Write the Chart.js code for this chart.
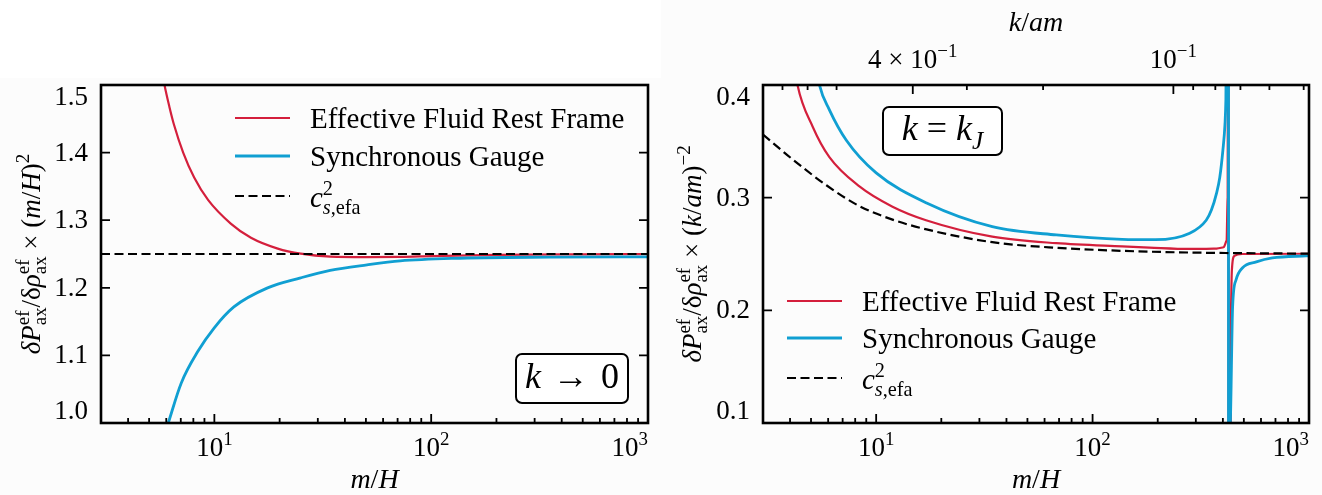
<!DOCTYPE html>
<html>
<head>
<meta charset="utf-8">
<script src="https://cdn.jsdelivr.net/npm/chart.js@4.4.1/dist/chart.umd.min.js"></script>
<style>
  html, body { margin: 0; padding: 0; background: #fcfcfc; }
  #wrap { position: relative; width: 1322px; height: 495px; overflow: hidden; }
  #topwhite { position: absolute; left: 0; top: 0; width: 661px; height: 78px; background: #fff; }
  .panel { position: absolute; top: 0; width: 661px; height: 495px; }
  #pL { left: 0; }
  #pR { left: 661px; }
</style>
</head>
<body>
<div id="wrap">
  <div id="topwhite"></div>
  <div class="panel" id="pL"><canvas id="cL"></canvas></div>
  <div class="panel" id="pR"><canvas id="cR"></canvas></div>
</div>
<script>
"use strict";

const FONT  = '"Liberation Serif", "DejaVu Serif", serif';
const RED   = "#d41f3c";
const BLUE  = "#109fd2";
const BLACK = "#000000";

// ── Data: left panel (k → 0) ────────────────────────────────────────────────
const restL_mH  = [5.6, 5.88, 6.2, 6.53, 7.18, 8.07, 9.35, 11.9, 14.75, 19.6, 25, 34.3, 50, 72, 100, 200, 500, 1000];
const restL_val = [1.54, 1.501, 1.468, 1.440, 1.400, 1.363, 1.330, 1.295, 1.274, 1.258, 1.2505, 1.2462, 1.2455, 1.2457, 1.2468, 1.2487, 1.2495, 1.2498];

const syncL_mH  = [5.9, 6.12, 7.03, 8.41, 9.97, 12.3, 17.6, 25, 34.2, 50.6, 72, 126, 352, 1000];
const syncL_val = [0.984, 0.9995, 1.0589, 1.1064, 1.1405, 1.1717, 1.1999, 1.2147, 1.2258, 1.234, 1.2399, 1.2436, 1.2454, 1.2458];

const csL_mH  = [3, 1000];
const csL_val = [1.25, 1.25];

// ── Data: right panel (k = k_J) ─────────────────────────────────────────────
const restR_mH  = [4.1, 4.33, 5.09, 6.08, 8.37, 11.9, 17.0, 34.4, 68, 137, 183, 281, 374, 403, 416, 421, 424, 424.6, 424.7, 427, 436, 440, 452, 492, 1000];
const restR_val = [0.43, 0.40, 0.363, 0.336, 0.310, 0.292, 0.280, 0.2654, 0.2596, 0.2567, 0.2557, 0.2545, 0.2548, 0.256, 0.262, 0.30, 0.8, 20, -20, -1, 0.20, 0.235, 0.2483, 0.2500, 0.2502];

const syncR_mH  = [5.2, 5.47, 6.08, 7.28, 10.0, 17.1, 34.4, 68, 137, 195, 281, 335, 354, 374, 387, 400, 409, 413, 419, 423, 424.6, 424.7, 426, 433, 443.6, 460, 492, 571, 677, 970, 1000];
const syncR_val = [0.425, 0.40, 0.378, 0.351, 0.322, 0.2953, 0.2743, 0.2669, 0.263, 0.2627, 0.2684, 0.280, 0.289, 0.304, 0.318, 0.342, 0.365, 0.387, 0.55, 1.5, 20, -20, -1, 0.10, 0.203, 0.227, 0.2376, 0.243, 0.2465, 0.2483, 0.2484];

const csR_mH  = [3, 4.11, 5.89, 8.37, 11.9, 17.1, 34.4, 68, 137, 281, 1000];
const csR_val = [0.356, 0.334, 0.311, 0.2925, 0.2805, 0.2718, 0.2605, 0.2555, 0.2528, 0.2513, 0.2503];

// ── Axes ────────────────────────────────────────────────────────────────────
const X_MIN = 3, X_MAX = 1000;
const xMajor = [10, 100, 1000];
const xMinor = [4, 5, 6, 7, 8, 9, 20, 30, 40, 50, 60, 70, 80, 90, 200, 300, 400, 500, 600, 700, 800, 900];
const yTicksL = [1.0, 1.1, 1.2, 1.3, 1.4, 1.5];
const yTicksR = [0.1, 0.2, 0.3, 0.4];

// top axis of the right panel: k/am = KJ / sqrt(m/H)
const KJ = 1.537;
const kamTicks = [0.8, 0.7, 0.6, 0.4, 0.3, 0.2, 0.1, 0.09, 0.08, 0.07, 0.06, 0.05];
const kamMajor = [0.4, 0.1];
const kamLabels = [
  [{ t: "4 × 10" }, { t: "−1", s: "sup" }],
  [{ t: "10" }, { t: "−1", s: "sup" }],
];

// ── Rich text (sub/superscripts) ────────────────────────────────────────────
function layoutRich(ctx, parts, size) {
  let cursor = 0, maxEnd = 0, lastScript = 0;
  const items = [];
  for (const p of parts) {
    if (p.g) { maxEnd += p.g; cursor = maxEnd; continue; }
    const fs = p.s ? size * 0.7 : size;
    const font = `${p.i ? "italic " : ""}${fs}px ${FONT}`;
    ctx.font = font;
    const w = ctx.measureText(p.t).width;
    let start;
    if (p.stack) start = lastScript;
    else if (p.s) start = cursor;
    else start = maxEnd;
    if (p.s && !p.stack && !p.cont) lastScript = start;
    const dy = p.s === "sup" ? -0.4 * size : p.s === "sub" ? 0.24 * size : 0;
    items.push({ t: p.t, font, x: start, dy });
    cursor = start + w;
    maxEnd = Math.max(maxEnd, cursor);
  }
  return { items, width: maxEnd };
}

function drawRich(ctx, parts, size, x, y, align) {
  const lay = layoutRich(ctx, parts, size);
  const x0 = align === "center" ? x - lay.width / 2 : align === "right" ? x - lay.width : x;
  ctx.textBaseline = "alphabetic";
  ctx.textAlign = "left";
  for (const it of lay.items) {
    ctx.font = it.font;
    ctx.fillText(it.t, x0 + it.x, y + it.dy);
  }
  return lay.width;
}

const csParts = [{ t: "c", i: 1 }, { t: "2", s: "sup" }, { t: "s", i: 1, s: "sub", stack: 1 }, { t: ",efa", s: "sub", cont: 1 }];

const yTitleL = [
  { t: "δ", i: 1 }, { t: "P", i: 1 }, { t: "ef", s: "sup" }, { t: "ax", s: "sub", stack: 1 },
  { t: "/δ", i: 0 }, { t: "ρ", i: 1 }, { t: "ef", s: "sup" }, { t: "ax", s: "sub", stack: 1 },
  { t: " × (" }, { t: "m", i: 1 }, { t: "/" }, { t: "H", i: 1 }, { t: ")" }, { t: "2", s: "sup" },
];
const yTitleR = [
  { t: "δ", i: 1 }, { t: "P", i: 1 }, { t: "ef", s: "sup" }, { t: "ax", s: "sub", stack: 1 },
  { t: "/δ", i: 0 }, { t: "ρ", i: 1 }, { t: "ef", s: "sup" }, { t: "ax", s: "sub", stack: 1 },
  { t: " × (" }, { t: "k", i: 1 }, { t: "/" }, { t: "am", i: 1 }, { t: ")" }, { t: "−2", s: "sup" },
];

// ── Panel decorations (frame, inward ticks, labels, legend, boxes) ─────────
const DECO = {
  cL: {
    yTicks: yTicksL,
    legend: { x1: 235, x2: 290, tx: 310, rows: [
      { y: 118, color: RED,  parts: [{ t: "Effective Fluid Rest Frame" }] },
      { y: 156, color: BLUE, parts: [{ t: "Synchronous Gauge" }] },
      { y: 196, color: BLACK, dash: true, parts: csParts, base: 11 },
    ] },
    box: { x: 516, y: 354, w: 112, h: 49, base: 388, parts: [{ t: "k", i: 1 }, { g: 12 }, { t: "→" }, { g: 12 }, { t: "0" }] },
    yTitle: { x: 40, parts: yTitleL },
  },
  cR: {
    yTicks: yTicksR,
    top: true,
    legend: { x1: 126, x2: 181, tx: 201, rows: [
      { y: 301, color: RED,  parts: [{ t: "Effective Fluid Rest Frame" }] },
      { y: 338, color: BLUE, parts: [{ t: "Synchronous Gauge" }] },
      { y: 378, color: BLACK, dash: true, parts: csParts, base: 11 },
    ] },
    box: { x: 222, y: 107, w: 119, h: 48, base: 140, parts: [{ t: "k", i: 1 }, { g: 9 }, { t: "=" }, { g: 9 }, { t: "k", i: 1 }, { t: "J", i: 1, s: "sub" }] },
    yTitle: { x: 40, parts: yTitleR },
  },
};

const TICK_MAJ = 9, TICK_MIN = 5, FS = 27, LEG_FS = 29;

function roundRect(ctx, x, y, w, h, r) {
  ctx.beginPath();
  ctx.moveTo(x + r, y);
  ctx.arcTo(x + w, y, x + w, y + h, r);
  ctx.arcTo(x + w, y + h, x, y + h, r);
  ctx.arcTo(x, y + h, x, y, r);
  ctx.arcTo(x, y, x + w, y, r);
  ctx.closePath();
}

const decoPlugin = {
  id: "deco",
  afterDraw(chart) {
    const d = DECO[chart.canvas.id];
    if (!d) return;
    const { ctx, chartArea: a } = chart;
    const xs = chart.scales.x, ys = chart.scales.y;
    ctx.save();
    ctx.strokeStyle = BLACK;
    ctx.fillStyle = BLACK;

    // ticks
    ctx.lineWidth = 1.8;
    ctx.beginPath();
    for (const v of xMajor) {
      const px = xs.getPixelForValue(v);
      ctx.moveTo(px, a.bottom); ctx.lineTo(px, a.bottom - TICK_MAJ);
    }
    for (const v of xMinor) {
      const px = xs.getPixelForValue(v);
      ctx.moveTo(px, a.bottom); ctx.lineTo(px, a.bottom - TICK_MIN);
    }
    for (const v of d.yTicks) {
      const py = ys.getPixelForValue(v);
      ctx.moveTo(a.left, py); ctx.lineTo(a.left + TICK_MAJ, py);
      ctx.moveTo(a.right, py); ctx.lineTo(a.right - TICK_MAJ, py);
    }
    if (d.top) {
      for (const k of kamTicks) {
        const px = xs.getPixelForValue((KJ / k) ** 2);
        const len = kamMajor.includes(k) ? TICK_MAJ : TICK_MIN;
        ctx.moveTo(px, a.top); ctx.lineTo(px, a.top + len);
      }
    }
    ctx.stroke();

    // frame
    ctx.lineWidth = 2.6;
    ctx.strokeRect(a.left, a.top, a.right - a.left, a.bottom - a.top);

    // x tick labels
    for (const v of xMajor) {
      const px = xs.getPixelForValue(v);
      const parts = [{ t: "10" }, { t: String(Math.round(Math.log10(v))), s: "sup" }];
      const w = layoutRich(ctx, parts, FS).width;
      let left = px - w / 2;
      if (left + w > a.right) left = a.right - w;
      drawRich(ctx, parts, FS, left, 456, "left");
    }
    // y tick labels
    ctx.font = `${FS}px ${FONT}`;
    ctx.textAlign = "right";
    ctx.textBaseline = "middle";
    for (const v of d.yTicks) {
      let py = ys.getPixelForValue(v);
      py = Math.max(a.top + 12, Math.min(a.bottom - 12, py));
      ctx.fillText(v.toFixed(1), a.left - 13, py + 1);
    }
    // top axis labels
    if (d.top) {
      kamMajor.forEach((k, i) => {
        const px = xs.getPixelForValue((KJ / k) ** 2);
        drawRich(ctx, kamLabels[i], FS, px, 68, "center");
      });
      drawRich(ctx, [{ t: "k", i: 1 }, { t: "/" }, { t: "am", i: 1 }], 28, (a.left + a.right) / 2, 31, "center");
    }

    // x title
    drawRich(ctx, [{ t: "m", i: 1 }, { t: "/" }, { t: "H", i: 1 }], 28, (a.left + a.right) / 2, 488, "center");

    // y title
    ctx.save();
    ctx.translate(d.yTitle.x, (a.top + a.bottom) / 2);
    ctx.rotate(-Math.PI / 2);
    drawRich(ctx, d.yTitle.parts, 27, 0, 0, "center");
    ctx.restore();

    // legend
    const lg = d.legend;
    for (const r of lg.rows) {
      ctx.save();
      ctx.strokeStyle = r.color;
      ctx.lineWidth = r.dash ? 2.2 : (r.color === BLUE ? 2.8 : 2.2);
      ctx.setLineDash(r.dash ? [9, 4.5] : []);
      ctx.beginPath();
      ctx.moveTo(lg.x1, r.y); ctx.lineTo(lg.x2, r.y);
      ctx.stroke();
      ctx.restore();
      drawRich(ctx, r.parts, LEG_FS, lg.tx, r.y + (r.base || 10), "left");
    }

    // annotation box
    const b = d.box;
    ctx.fillStyle = "#ffffff";
    roundRect(ctx, b.x, b.y, b.w, b.h, 6);
    ctx.fill();
    ctx.lineWidth = 2;
    ctx.stroke();
    ctx.fillStyle = BLACK;
    drawRich(ctx, b.parts, 36, b.x + b.w / 2, b.base, "center");

    ctx.restore();
  },
};

function toPoints(xs, ys) {
  return xs.map((x, i) => ({ x, y: ys[i] }));
}

function lineSet(label, xs, ys, color, width, dash, order) {
  return {
    label,
    data: toPoints(xs, ys),
    borderColor: color,
    borderWidth: width,
    borderDash: dash || [],
    pointRadius: 0,
    fill: false,
    cubicInterpolationMode: "monotone",
    order,
  };
}

function makeChart(id, sets, yMin, yMax, pad) {
  return new Chart(document.getElementById(id), {
    type: "line",
    data: { datasets: sets },
    options: {
      responsive: true,
      maintainAspectRatio: false,
      animation: false,
      events: [],
      layout: { padding: pad },
      plugins: { legend: { display: false }, tooltip: { enabled: false } },
      scales: {
        x: { type: "logarithmic", min: X_MIN, max: X_MAX, display: false },
        y: { type: "linear", min: yMin, max: yMax, display: false },
      },
    },
    plugins: [decoPlugin],
  });
}

makeChart("cL", [
  lineSet("Effective Fluid Rest Frame", restL_mH, restL_val, RED, 2.2, null, 2),
  lineSet("Synchronous Gauge", syncL_mH, syncL_val, BLUE, 2.8, null, 1),
  lineSet("c_s,efa^2", csL_mH, csL_val, BLACK, 2.2, [9, 4.5], 0),
], 1.0, 1.5, { left: 101, top: 85, right: 13, bottom: 72 });

makeChart("cR", [
  lineSet("Effective Fluid Rest Frame", restR_mH, restR_val, RED, 2.2, null, 2),
  lineSet("Synchronous Gauge", syncR_mH, syncR_val, BLUE, 2.8, null, 1),
  lineSet("c_s,efa^2", csR_mH, csR_val, BLACK, 2.2, [9, 4.5], 0),
], 0.1, 0.4, { left: 102, top: 85, right: 13, bottom: 72 });
</script>
</body>
</html>
